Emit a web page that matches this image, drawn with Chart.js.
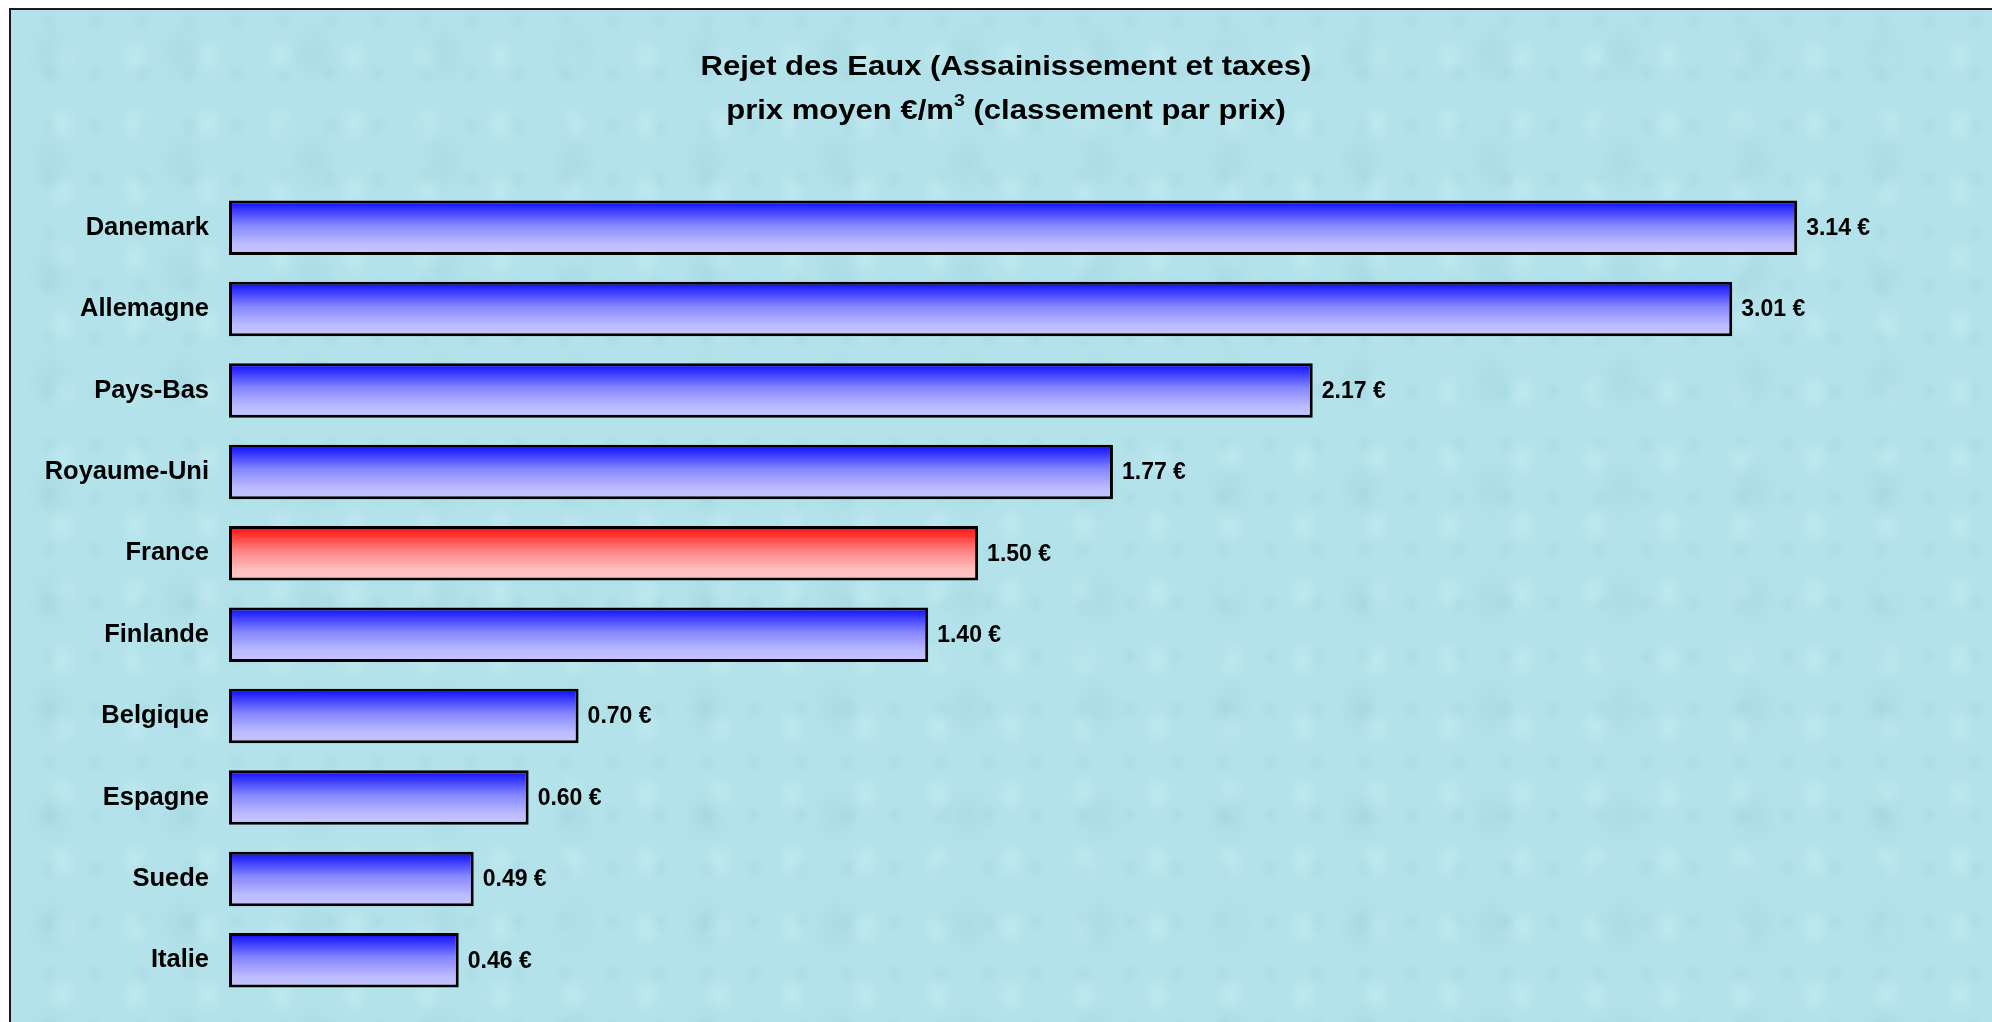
<!DOCTYPE html>
<html lang="fr">
<head>
<meta charset="utf-8">
<title>Rejet des Eaux - prix moyen</title>
<script src="https://cdn.jsdelivr.net/npm/chart.js@4.4.0/dist/chart.umd.min.js"></script>
<style>
    html, body { margin: 0; padding: 0; background: #ffffff; overflow: hidden; }
    #page { position: relative; width: 1992px; height: 1022px; }
    /* frame with the water-drop coloured background (cropped on right/bottom) */
    #frame {
        position: absolute; left: 9px; top: 8px; right: 0; bottom: 0;
        border-left: 2px solid #1a1a1a; border-top: 2px solid #1a1a1a;
        background-color: #b4e2ea;
        background-image:
            radial-gradient(ellipse 26px 34px at 30% 40%, rgba(150, 205, 216, 0.3), rgba(150, 205, 216, 0) 100%),
            radial-gradient(ellipse 16px 20px at 70% 70%, rgba(210, 243, 248, 0.35), rgba(210, 243, 248, 0) 100%),
            radial-gradient(ellipse 11px 13px at 80% 20%, rgba(150, 205, 216, 0.25), rgba(150, 205, 216, 0) 100%);
        background-size: 131px 109px, 73px 67px, 47px 53px;
    }
    #wrap { position: absolute; left: 0; top: 0; width: 1992px; height: 1022px; }
</style>
</head>
<body>
<div id="page">
    <div id="frame"></div>
    <div id="wrap"><canvas id="priceChart"></canvas></div>
</div>
<script>
// --- data ---
const countries = ['Danemark', 'Allemagne', 'Pays-Bas', 'Royaume-Uni', 'France',
                   'Finlande', 'Belgique', 'Espagne', 'Suede', 'Italie'];
const prices = [3.14, 3.01, 2.17, 1.77, 1.50, 1.40, 0.70, 0.60, 0.49, 0.46];
const highlight = 'France';
const titleLines = ['Rejet des Eaux (Assainissement et taxes)', 'prix moyen \u20AC/m', ' (classement par prix)'];

const FONT = "'Liberation Sans', Arial, Helvetica, sans-serif";
const BAR_PCT = 0.67;

// vertical gradient for each bar (dark on top, pale at the bottom)
function barGradient(context) {
    const chart = context.chart;
    const yScale = chart.scales.y;
    const fallback = countries[context.dataIndex] === highlight ? '#ff8080' : '#8080ff';
    if (!yScale || !chart.chartArea) return fallback;
    const center = yScale.getPixelForValue(context.dataIndex);
    const half = yScale.height / countries.length * BAR_PCT / 2;
    const g = chart.ctx.createLinearGradient(0, center - half, 0, center + half);
    if (countries[context.dataIndex] === highlight) {
        g.addColorStop(0, '#ff0808');
        g.addColorStop(0.45, '#ff8282');
        g.addColorStop(0.8, '#ffbebe');
        g.addColorStop(1, '#ffc6c6');
    } else {
        g.addColorStop(0, '#0808ff');
        g.addColorStop(0.45, '#8686ff');
        g.addColorStop(0.8, '#bcbcff');
        g.addColorStop(1, '#c6c6ff');
    }
    return g;
}

// title drawn by hand (slightly stretched like the original picture)
const titlePlugin = {
    id: 'titleText',
    afterDraw(chart) {
        const ctx = chart.ctx;
        const cx = 1006, sx = 1.15;
        ctx.save();
        ctx.fillStyle = '#000';
        ctx.textBaseline = 'alphabetic';
        ctx.scale(sx, 1);
        ctx.font = 'bold 27px ' + FONT;
        ctx.textAlign = 'center';
        ctx.fillText(titleLines[0], cx / sx, 75);

        // second line with a real superscript 3
        ctx.textAlign = 'left';
        const w1 = ctx.measureText(titleLines[1]).width;
        const w3 = ctx.measureText(titleLines[2]).width;
        ctx.font = 'bold 17px ' + FONT;
        const wSup = ctx.measureText('3').width;
        let x = cx / sx - (w1 + wSup + w3) / 2;
        ctx.font = 'bold 27px ' + FONT;
        ctx.fillText(titleLines[1], x, 119);
        x += w1;
        ctx.font = 'bold 17px ' + FONT;
        ctx.fillText('3', x, 106);
        x += wSup;
        ctx.font = 'bold 27px ' + FONT;
        ctx.fillText(titleLines[2], x, 119);
        ctx.restore();
    }
};

// value labels at the end of each bar
const valueLabels = {
    id: 'valueLabels',
    afterDatasetsDraw(chart) {
        const ctx = chart.ctx;
        const meta = chart.getDatasetMeta(0);
        ctx.save();
        ctx.fillStyle = '#000';
        ctx.font = 'bold 23px ' + FONT;
        ctx.textAlign = 'left';
        ctx.textBaseline = 'middle';
        meta.data.forEach((bar, i) => {
            ctx.fillText(prices[i].toFixed(2) + ' \u20AC', bar.x + 9, bar.y + 1);
        });
        ctx.restore();
    }
};

new Chart(document.getElementById('priceChart'), {
    type: 'bar',
    data: {
        labels: countries,
        datasets: [{
            data: prices,
            backgroundColor: barGradient,
            borderColor: '#000',
            borderWidth: 3,
            borderSkipped: false,
            barPercentage: BAR_PCT,
            categoryPercentage: 1
        }]
    },
    options: {
        indexAxis: 'y',
        responsive: true,
        maintainAspectRatio: false,
        animation: false,
        devicePixelRatio: 1,
        layout: { padding: { top: 187, bottom: 21, left: 0, right: 65 } },
        plugins: {
            legend: { display: false },
            tooltip: { enabled: false },
            title: { display: false }
        },
        scales: {
            x: {
                display: false,
                min: 0,
                max: 3.4
            },
            y: {
                grid: { display: false, drawTicks: false },
                border: { display: false },
                ticks: {
                    color: '#000',
                    padding: 20,
                    font: { family: FONT, size: 25.5, weight: 'bold' }
                },
                afterFit(scale) {
                    // fixed label column, no extra top/bottom label padding
                    scale.width = 229;
                    scale.paddingTop = 0;
                    scale.paddingBottom = 0;
                }
            }
        }
    },
    plugins: [titlePlugin, valueLabels]
});
</script>
</body>
</html>
